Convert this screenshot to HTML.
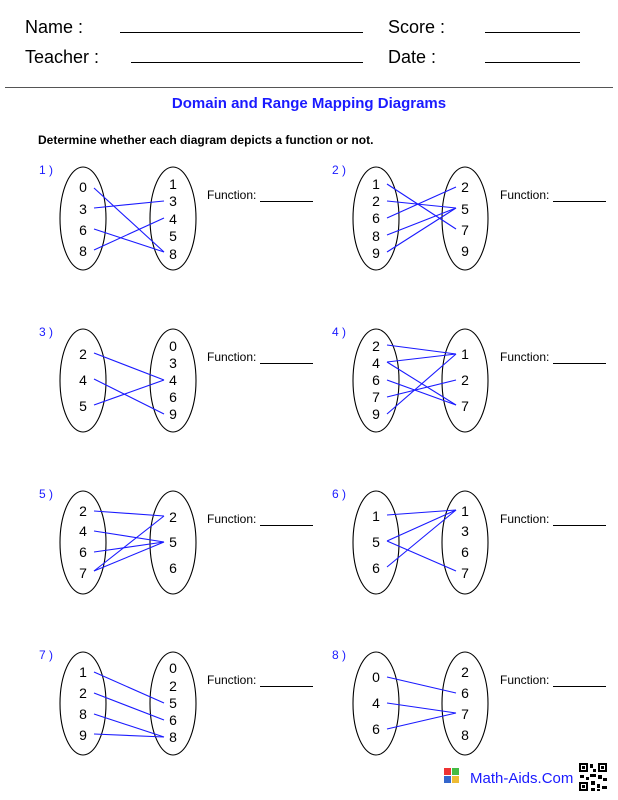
<!DOCTYPE html>
<html><head><meta charset="utf-8"><style>
html,body{margin:0;padding:0;background:#fff;}
svg{display:block;}
text{font-family:"Liberation Sans",Arial,sans-serif;}
.n{font-size:14px;text-anchor:middle;fill:#000;}
.l{font-size:12px;fill:#1a1aff;}
.f{font-size:12px;fill:#000;}
ellipse{fill:none;stroke:#000;stroke-width:1.1;}
.e line{stroke:#1a1aff;stroke-width:1.1;}
.u{stroke:#000;stroke-width:1;}
</style></head><body>
<svg width="618" height="800" viewBox="0 0 618 800" xmlns="http://www.w3.org/2000/svg">
<text x="25" y="33" font-size="18">Name :</text>
<line class="u" x1="120" y1="32.5" x2="363" y2="32.5"/>
<text x="388" y="33" font-size="18">Score :</text>
<line class="u" x1="485" y1="32.5" x2="580" y2="32.5"/>
<text x="25" y="63" font-size="18">Teacher :</text>
<line class="u" x1="131" y1="62.5" x2="363" y2="62.5"/>
<text x="388" y="63" font-size="18">Date :</text>
<line class="u" x1="485" y1="62.5" x2="580" y2="62.5"/>
<line x1="5" y1="87.5" x2="613" y2="87.5" stroke="#555" stroke-width="1"/>
<text x="309" y="108" font-size="15" font-weight="bold" fill="#1a1aff" text-anchor="middle">Domain and Range Mapping Diagrams</text>
<text x="38" y="144" font-size="12" font-weight="bold">Determine whether each diagram depicts a function or not.</text>

<!-- 1 -->
<text class="l" x="39" y="174">1 )</text>
<ellipse cx="83" cy="218.5" rx="23" ry="51.5"/><ellipse cx="173" cy="218.5" rx="23" ry="51.5"/>
<text class="n" x="83" y="192">0</text><text class="n" x="83" y="214">3</text><text class="n" x="83" y="235">6</text><text class="n" x="83" y="256">8</text>
<text class="n" x="173" y="189">1</text><text class="n" x="173" y="206">3</text><text class="n" x="173" y="224">4</text><text class="n" x="173" y="241">5</text><text class="n" x="173" y="259">8</text>
<g class="e"><line x1="94" y1="188" x2="164" y2="252"/><line x1="94" y1="208" x2="164" y2="201"/><line x1="94" y1="229" x2="164" y2="252"/><line x1="94" y1="250" x2="164" y2="218"/></g>
<text class="f" x="207" y="199">Function:</text><line class="u" x1="260" y1="201.5" x2="313" y2="201.5"/>

<!-- 2 -->
<text class="l" x="332" y="174">2 )</text>
<ellipse cx="376" cy="218.5" rx="23" ry="51.5"/><ellipse cx="465" cy="218.5" rx="23" ry="51.5"/>
<text class="n" x="376" y="189">1</text><text class="n" x="376" y="206">2</text><text class="n" x="376" y="223">6</text><text class="n" x="376" y="241">8</text><text class="n" x="376" y="258">9</text>
<text class="n" x="465" y="192">2</text><text class="n" x="465" y="214">5</text><text class="n" x="465" y="235">7</text><text class="n" x="465" y="256">9</text>
<g class="e"><line x1="387" y1="184" x2="456" y2="229"/><line x1="387" y1="201" x2="456" y2="208"/><line x1="387" y1="218" x2="456" y2="187"/><line x1="387" y1="235" x2="456" y2="208"/><line x1="387" y1="252" x2="456" y2="208"/></g>
<text class="f" x="500" y="199">Function:</text><line class="u" x1="553" y1="201.5" x2="606" y2="201.5"/>

<!-- 3 -->
<text class="l" x="39" y="336">3 )</text>
<ellipse cx="83" cy="380.5" rx="23" ry="51.5"/><ellipse cx="173" cy="380.5" rx="23" ry="51.5"/>
<text class="n" x="83" y="359">2</text><text class="n" x="83" y="385">4</text><text class="n" x="83" y="411">5</text>
<text class="n" x="173" y="351">0</text><text class="n" x="173" y="368">3</text><text class="n" x="173" y="385">4</text><text class="n" x="173" y="402">6</text><text class="n" x="173" y="419">9</text>
<g class="e"><line x1="94" y1="353" x2="164" y2="380"/><line x1="94" y1="379" x2="164" y2="414"/><line x1="94" y1="405" x2="164" y2="380"/></g>
<text class="f" x="207" y="361">Function:</text><line class="u" x1="260" y1="363.5" x2="313" y2="363.5"/>

<!-- 4 -->
<text class="l" x="332" y="336">4 )</text>
<ellipse cx="376" cy="380.5" rx="23" ry="51.5"/><ellipse cx="465" cy="380.5" rx="23" ry="51.5"/>
<text class="n" x="376" y="351">2</text><text class="n" x="376" y="368">4</text><text class="n" x="376" y="385">6</text><text class="n" x="376" y="402">7</text><text class="n" x="376" y="419">9</text>
<text class="n" x="465" y="359">1</text><text class="n" x="465" y="385">2</text><text class="n" x="465" y="411">7</text>
<g class="e"><line x1="387" y1="345" x2="456" y2="354"/><line x1="387" y1="362" x2="456" y2="354"/><line x1="387" y1="362" x2="456" y2="405"/><line x1="387" y1="380" x2="456" y2="405"/><line x1="387" y1="397" x2="456" y2="380"/><line x1="387" y1="414" x2="456" y2="354"/></g>
<text class="f" x="500" y="361">Function:</text><line class="u" x1="553" y1="363.5" x2="606" y2="363.5"/>

<!-- 5 -->
<text class="l" x="39" y="498">5 )</text>
<ellipse cx="83" cy="542.5" rx="23" ry="51.5"/><ellipse cx="173" cy="542.5" rx="23" ry="51.5"/>
<text class="n" x="83" y="516">2</text><text class="n" x="83" y="536">4</text><text class="n" x="83" y="557">6</text><text class="n" x="83" y="578">7</text>
<text class="n" x="173" y="522">2</text><text class="n" x="173" y="547">5</text><text class="n" x="173" y="573">6</text>
<g class="e"><line x1="94" y1="511" x2="164" y2="516"/><line x1="94" y1="531" x2="164" y2="542"/><line x1="94" y1="552" x2="164" y2="542"/><line x1="94" y1="571" x2="164" y2="516"/><line x1="94" y1="571" x2="164" y2="542"/></g>
<text class="f" x="207" y="523">Function:</text><line class="u" x1="260" y1="525.5" x2="313" y2="525.5"/>

<!-- 6 -->
<text class="l" x="332" y="498">6 )</text>
<ellipse cx="376" cy="542.5" rx="23" ry="51.5"/><ellipse cx="465" cy="542.5" rx="23" ry="51.5"/>
<text class="n" x="376" y="521">1</text><text class="n" x="376" y="547">5</text><text class="n" x="376" y="573">6</text>
<text class="n" x="465" y="516">1</text><text class="n" x="465" y="536">3</text><text class="n" x="465" y="557">6</text><text class="n" x="465" y="578">7</text>
<g class="e"><line x1="387" y1="515" x2="456" y2="510"/><line x1="387" y1="541" x2="456" y2="510"/><line x1="387" y1="541" x2="456" y2="571"/><line x1="387" y1="567" x2="456" y2="510"/></g>
<text class="f" x="500" y="523">Function:</text><line class="u" x1="553" y1="525.5" x2="606" y2="525.5"/>

<!-- 7 -->
<text class="l" x="39" y="659">7 )</text>
<ellipse cx="83" cy="703.5" rx="23" ry="51.5"/><ellipse cx="173" cy="703.5" rx="23" ry="51.5"/>
<text class="n" x="83" y="677">1</text><text class="n" x="83" y="698">2</text><text class="n" x="83" y="719">8</text><text class="n" x="83" y="740">9</text>
<text class="n" x="173" y="673">0</text><text class="n" x="173" y="691">2</text><text class="n" x="173" y="708">5</text><text class="n" x="173" y="725">6</text><text class="n" x="173" y="742">8</text>
<g class="e"><line x1="94" y1="672" x2="164" y2="703"/><line x1="94" y1="693" x2="164" y2="720"/><line x1="94" y1="714" x2="164" y2="737"/><line x1="94" y1="734" x2="164" y2="737"/></g>
<text class="f" x="207" y="684">Function:</text><line class="u" x1="260" y1="686.5" x2="313" y2="686.5"/>

<!-- 8 -->
<text class="l" x="332" y="659">8 )</text>
<ellipse cx="376" cy="703.5" rx="23" ry="51.5"/><ellipse cx="465" cy="703.5" rx="23" ry="51.5"/>
<text class="n" x="376" y="682">0</text><text class="n" x="376" y="708">4</text><text class="n" x="376" y="734">6</text>
<text class="n" x="465" y="677">2</text><text class="n" x="465" y="698">6</text><text class="n" x="465" y="719">7</text><text class="n" x="465" y="740">8</text>
<g class="e"><line x1="387" y1="677" x2="456" y2="693"/><line x1="387" y1="703" x2="456" y2="713"/><line x1="387" y1="729" x2="456" y2="713"/></g>
<text class="f" x="500" y="684">Function:</text><line class="u" x1="553" y1="686.5" x2="606" y2="686.5"/>

<!-- footer -->
<rect x="444" y="768" width="7" height="7" fill="#e33"/><rect x="452" y="768" width="7" height="7" fill="#4b4"/>
<rect x="444" y="776" width="7" height="7" fill="#36c"/><rect x="452" y="776" width="7" height="7" fill="#eb3"/>
<text x="470" y="783" font-size="15" fill="#1a1aff">Math-Aids.Com</text>
<g fill="#000">
<rect x="578" y="762" width="30" height="30" fill="#fff"/>
<rect x="579" y="763" width="9" height="9"/><rect x="581" y="765" width="5" height="5" fill="#fff"/><rect x="582" y="766" width="3" height="3"/>
<rect x="598" y="763" width="9" height="9"/><rect x="600" y="765" width="5" height="5" fill="#fff"/><rect x="601" y="766" width="3" height="3"/>
<rect x="579" y="782" width="9" height="9"/><rect x="581" y="784" width="5" height="5" fill="#fff"/><rect x="582" y="785" width="3" height="3"/>
<rect x="590" y="764" width="3" height="4"/><rect x="593" y="769" width="3" height="3"/><rect x="590" y="774" width="6" height="3"/>
<rect x="580" y="775" width="4" height="3"/><rect x="586" y="777" width="3" height="3"/><rect x="598" y="775" width="4" height="4"/>
<rect x="603" y="778" width="4" height="3"/><rect x="591" y="781" width="4" height="4"/><rect x="597" y="784" width="3" height="4"/>
<rect x="602" y="786" width="5" height="3"/><rect x="591" y="788" width="4" height="3"/><rect x="597" y="789" width="3" height="2"/>
</g>
</svg>
</body></html>
